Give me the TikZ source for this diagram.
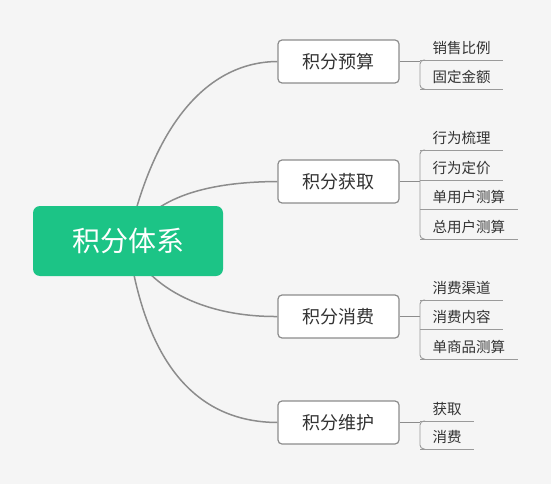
\documentclass[tikz,border=0pt]{standalone}
\usepackage{fontspec}
\setmainfont{Noto Sans CJK SC}
\pgfdeclarelayer{bg}
\pgfdeclarelayer{edges}
\pgfsetlayers{bg,edges,main}
\definecolor{bgc}{HTML}{F5F5F5}
\definecolor{rootc}{HTML}{1CC486}
\definecolor{linec}{HTML}{8C8C8C}
\definecolor{leafline}{HTML}{9A9A9A}
\definecolor{txt}{HTML}{333333}
\tikzset{
  rootbox/.style={fill=rootc, rounded corners=7pt, minimum width=190pt, minimum height=70pt,
    text=white, font=\fontsize{28}{30}\selectfont, inner sep=0pt, text height=24.6pt, text depth=3.4pt},
  topicbox/.style={draw=linec, line width=1.2pt, fill=white, rounded corners=4pt,
    minimum width=121pt, minimum height=43pt, text=txt, font=\fontsize{18}{20}\selectfont,
    inner sep=0pt, text height=15.8pt, text depth=2.2pt},
  leafnode/.style={anchor=south west, inner xsep=12.5pt, inner ysep=4.5pt, text height=12pt,
    text depth=2pt, text=txt, font=\fontsize{14.5}{16}\selectfont,
    append after command={(\tikzlastnode.south west) edge[draw=leafline, line width=0.9pt] (\tikzlastnode.south east)}},
  curve/.style={draw=linec, line width=1.5pt},
  hinge/.style={draw=linec, line width=1.2pt},
  bracket/.style={draw=leafline, line width=0.9pt, rounded corners=4pt},
}
\begin{document}
\begin{tikzpicture}[x=1pt, y=-1pt]
\begin{pgfonlayer}{bg}
  \fill[bgc] (0,0) rectangle (551,484);
\end{pgfonlayer}
\useasboundingbox (0,0) rectangle (551,484);

\node[rootbox] (root) at (128,241) {积分体系};
\node[topicbox] (t1) at (338.5,61.5) {积分预算};
\node[topicbox] (t2) at (338.5,181.5) {积分获取};
\node[topicbox] (t3) at (338.5,316.5) {积分消费};
\node[topicbox] (t4) at (338.5,422.5) {积分维护};

\begin{pgfonlayer}{edges}
  \draw[curve] (root.center) .. controls (155,120) and (210,62) .. (t1.west);
  \draw[curve] (root.center) .. controls (150,200) and (200,182) .. (t2.west);
  \draw[curve] (root.center) .. controls (145,285) and (200,317) .. (t3.west);
  \draw[curve] (root.center) .. controls (145,362) and (195,422) .. (t4.west);
\end{pgfonlayer}

% group 1
\node[leafnode] (a1) at (420,60) {销售比例};
\node[leafnode] (a2) at (420,89) {固定金额};
% group 2
\node[leafnode] (b1) at (420,150) {行为梳理};
\node[leafnode] (b2) at (420,180) {行为定价};
\node[leafnode] (b3) at (420,209.5) {单用户测算};
\node[leafnode] (b4) at (420,239) {总用户测算};
% group 3
\node[leafnode] (c1) at (420,300) {消费渠道};
\node[leafnode] (c2) at (420,329.5) {消费内容};
\node[leafnode] (c3) at (420,359) {单商品测算};
% group 4
\node[leafnode] (d1) at (420,421) {获取};
\node[leafnode] (d2) at (420,449) {消费};

\draw[hinge] (t1.east) -- (t1.east -| a1.south west);
\draw[hinge] (t2.east) -- (t2.east -| b1.south west);
\draw[hinge] (t3.east) -- (t3.east -| c1.south west);
\draw[hinge] (t4.east) -- (t4.east -| d1.south west);

\draw[bracket] ([xshift=5pt]a1.south west) -- (a1.south west) -- (a2.south west) -- ([xshift=5pt]a2.south west);
\draw[bracket] ([xshift=5pt]b1.south west) -- (b1.south west) -- (b4.south west) -- ([xshift=5pt]b4.south west);
\draw[bracket] ([xshift=5pt]c1.south west) -- (c1.south west) -- (c3.south west) -- ([xshift=5pt]c3.south west);
\draw[bracket] ([xshift=5pt]d1.south west) -- (d1.south west) -- (d2.south west) -- ([xshift=5pt]d2.south west);
\end{tikzpicture}
\end{document}
